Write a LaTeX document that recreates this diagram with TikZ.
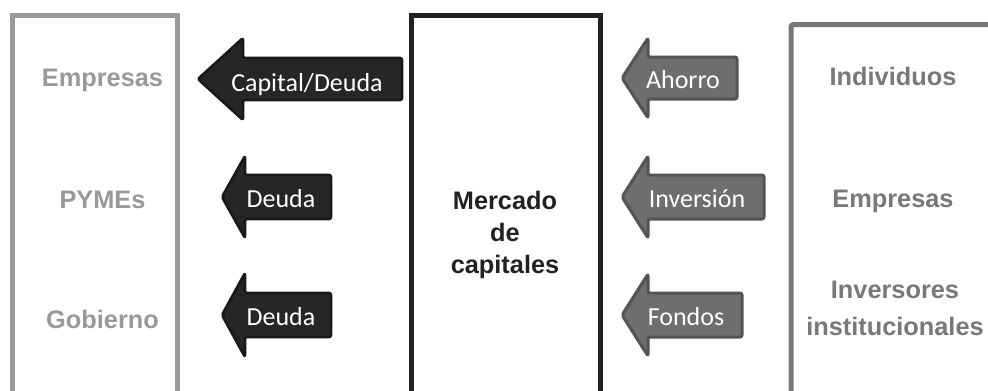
\documentclass[tikz,border=0pt]{standalone}
\usepackage{fontspec}
\setmainfont{Liberation Sans}
\newfontfamily\flechafont{Carlito}
\begin{document}
\begin{tikzpicture}[x=0.75pt,y=-0.75pt,
        caja/.style={line width=3.75pt},
        flechanegra/.style={fill=black!85,draw=black!90,line width=2pt,rounded corners=1.5pt,line join=round},
        flechagris/.style={fill=black!57,draw=black!67,line width=2.25pt,rounded corners=1.5pt,line join=round},
        texto/.style={anchor=base,inner sep=0pt,text=white,font=\flechafont\fontsize{19.5}{21}\selectfont},
        etiqueta/.style={anchor=base,inner sep=0pt,font=\bfseries\fontsize{19}{24}\selectfont}]
            \useasboundingbox (0,0) rectangle (988,390);
            \clip (0,0) rectangle (988,390);

            % cajas
            \draw[caja,black!40] (12,15.5) rectangle (177.5,400);
            \draw[caja,black!87] (411,15.5) rectangle (600,400);
            \draw[caja,black!53,rounded corners=2pt] (791,24.5) rectangle (1000,400);

            % flechas
            \foreach \t/\h/\e/\c/\b/\a in {198/243/402/79/21/41, 222/245/331/197/22/41, 222/245/331/315/22/42}
                {\draw[flechanegra] (\t,\c) -- (\h,\c-\a) -- (\h,\c-\b) -- (\e,\c-\b) -- (\e,\c+\b) -- (\h,\c+\b) -- (\h,\c+\a) -- cycle;
                }
            \foreach \t/\h/\e/\c/\b/\a in {622/648/737/78/21/40, 622/648/764/197/22/41, 622/648/742/315/22/41}
                {\draw[flechagris] (\t,\c) -- (\h,\c-\a) -- (\h,\c-\b) -- (\e,\c-\b) -- (\e,\c+\b) -- (\h,\c+\b) -- (\h,\c+\a) -- cycle;
                }

            \node[texto] (capital) at (307,91) {Capital/Deuda};
            \node[texto] (deudapymes) at (281,207) {Deuda};
            \node[texto] (deudagob) at (281,325) {Deuda};
            \node[texto] (ahorro) at (683,88) {Ahorro};
            \node[texto] (inversion) at (697,207) {Inversión};
            \node[texto] (fondos) at (686,325) {Fondos};

            % etiquetas
            \node[etiqueta,text=black!40] (empresasizq) at (102.5,86) {Empresas};
            \node[etiqueta,text=black!40] (pymes) at (102.5,208) {PYMEs};
            \node[etiqueta,text=black!40] (gobierno) at (102.5,328) {Gobierno};

            \node[etiqueta,anchor=center,align=center,text=black!87] (mercado) at (505,235) {Mercado\\de\\capitales};

            \node[etiqueta,text=black!53] (individuos) at (893,85) {Individuos};
            \node[etiqueta,text=black!53] (empresasder) at (893,207) {Empresas};
            \node[etiqueta,text=black!53,align=center,font=\bfseries\fontsize{19}{27.5}\selectfont] (inversores) at (895,335) {Inversores\\institucionales};
        \end{tikzpicture}
\end{document}
